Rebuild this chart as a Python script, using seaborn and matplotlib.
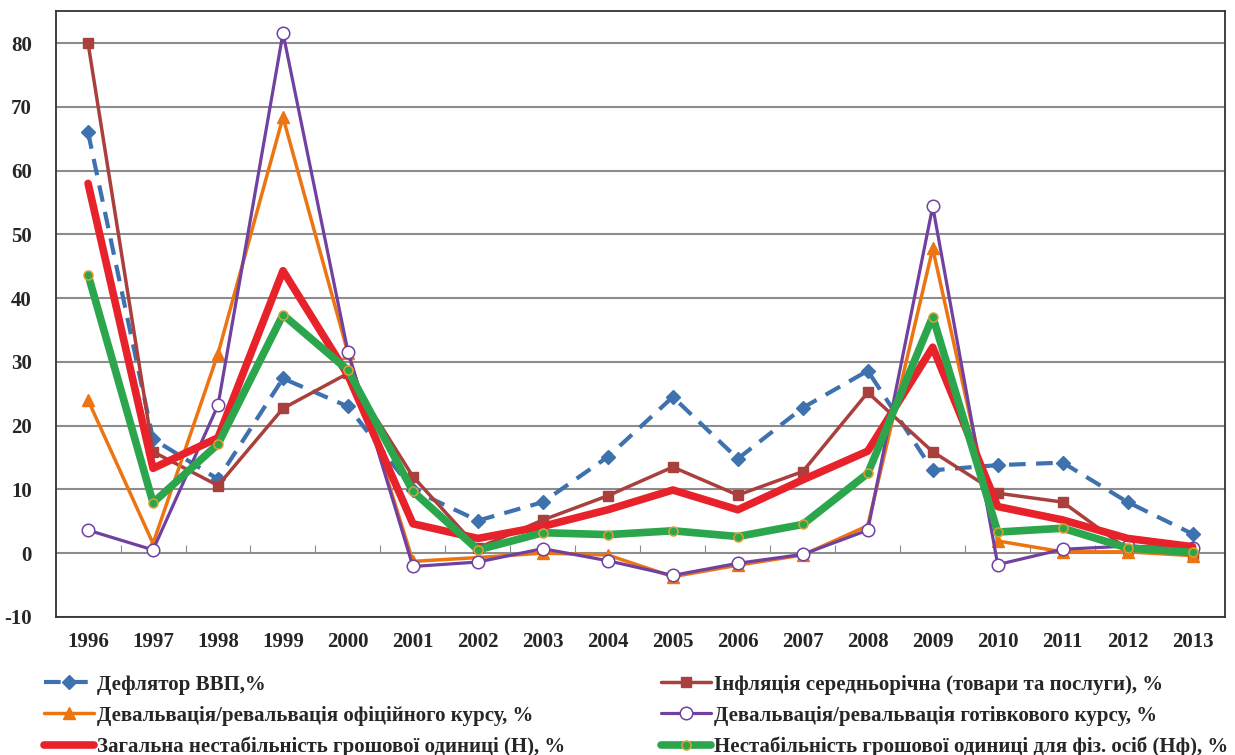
import numpy as np
import pandas as pd
import matplotlib
matplotlib.use('Agg')
import matplotlib.pyplot as plt
import seaborn as sns

years = [str(y) for y in range(1996, 2014)]

deflator = [66.0, 17.9, 11.6, 27.4, 23.0, 9.9, 5.1, 8.0, 15.1, 24.5, 14.8, 22.8, 28.6, 13.0, 13.8, 14.2, 8.0, 3.0]
inflation = [80.0, 15.9, 10.6, 22.7, 28.2, 12.0, 0.8, 5.2, 9.0, 13.5, 9.1, 12.8, 25.2, 15.9, 9.4, 8.0, 0.6, -0.3]
official = [24.0, 1.5, 31.3, 68.4, 31.4, -1.3, -0.7, 0.0, -0.3, -3.7, -1.9, -0.3, 4.3, 47.8, 1.9, 0.2, 0.2, -0.4]
cash = [3.6, 0.5, 23.2, 81.6, 31.6, -2.1, -1.4, 0.7, -1.2, -3.5, -1.6, -0.2, 3.6, 54.4, -1.8, 0.6, 1.1, 0.8]
total_h = [58.0, 13.3, 18.1, 44.3, 27.9, 4.6, 2.3, 4.2, 6.8, 9.9, 6.8, 11.5, 16.0, 32.3, 7.3, 5.2, 2.3, 1.0]
phys_hf = [43.7, 7.9, 17.1, 37.4, 28.7, 9.7, 0.5, 3.2, 2.9, 3.5, 2.6, 4.5, 12.5, 37.1, 3.3, 3.9, 0.8, 0.1]

labels = [
    'Дефлятор ВВП,%',
    'Інфляція середньорічна (товари та послуги), %',
    'Девальвація/ревальвація офіційного курсу, %',
    'Девальвація/ревальвація готівкового курсу, %',
    'Загальна нестабільність грошової одиниці (Н), %',
    'Нестабільність грошової одиниці для фіз. осіб (Нф), %',
]

styles = [
    dict(color='#3E72AE', lw=3, dashes=(4, 2.5), marker='D', ms=7, mfc='#3E72AE', mec='#3E72AE'),
    dict(color='#A9403D', lw=2.5, marker='s', ms=7, mfc='#A9403D', mec='#A9403D'),
    dict(color='#EC7512', lw=2.5, marker='^', ms=9, mfc='#EC7512', mec='#EC7512'),
    dict(color='#7041A0', lw=2.3, marker='o', ms=9, mfc='white', mec='#7041A0', mew=1.1),
    dict(color='#E8222A', lw=5.5, marker=None),
    dict(color='#2BA64C', lw=5.5, marker='o', ms=6.5, mfc='#2BA64C', mec='#E0A030', mew=1.1),
]

series = [deflator, inflation, official, cash, total_h, phys_hf]

sns.set_style('white')
plt.rcParams['font.family'] = ['Liberation Serif', 'DejaVu Serif']
plt.rcParams['font.weight'] = 'bold'
plt.rcParams['axes.unicode_minus'] = False

fig = plt.figure(figsize=(12.35, 7.55), dpi=100)
ax = fig.add_axes([0.045, 0.183, 0.947, 0.802])

x = np.arange(len(years))
handles = []
for vals, lab, st in zip(series, labels, styles):
    df = pd.DataFrame({'x': x, 'y': vals})
    st = dict(st)
    dashes = st.pop('dashes', None)
    sns.lineplot(data=df, x='x', y='y', ax=ax, color=st['color'], linewidth=st['lw'],
                 marker=st['marker'], markersize=st.get('ms', 0),
                 markerfacecolor=st.get('mfc'), markeredgecolor=st.get('mec'),
                 markeredgewidth=st.get('mew', 1), label=lab)
    line = ax.lines[-1]
    if dashes:
        line.set_dashes(dashes)
    handles.append(line)

ax.set_xlim(-0.5, len(years) - 0.5)
ax.set_ylim(-10, 85)
ax.set_yticks(range(-10, 81, 10))
ax.set_xticks(x)
ax.set_xticklabels(years)
ax.set_xlabel('')
ax.set_ylabel('')
ax.tick_params(axis='x', length=0, pad=11, labelsize=15)
ax.tick_params(axis='y', length=5, width=1, color='#868686', labelsize=15, pad=12)
for lab in ax.get_xticklabels() + ax.get_yticklabels():
    lab.set_fontweight('bold')
ax.yaxis.grid(True, color='#8C8C8C', lw=1.5)
ax.set_axisbelow(True)
for s in ax.spines.values():
    s.set_color('#333333')
    s.set_linewidth(1.3)

# category ticks sitting on the zero line
sec = ax.secondary_xaxis(10 / 95)
sec.set_xticks(x[:-1] + 0.5)
sec.tick_params(axis='x', direction='in', length=6, color='#8C8C8C', labelbottom=False)
sec.spines['bottom'].set_visible(False)

order = [0, 2, 4, 1, 3, 5]
leg = ax.legend([handles[i] for i in order], [labels[i] for i in order], ncol=2,
                loc='upper left', bbox_to_anchor=(-0.021, -0.075), frameon=False,
                prop={'family': 'Liberation Serif', 'weight': 'bold', 'size': 15},
                handlelength=2.4, handletextpad=0.15, columnspacing=4.6, labelspacing=0.52,
                borderaxespad=0.2)

fig.savefig('out.png', dpi=100)
